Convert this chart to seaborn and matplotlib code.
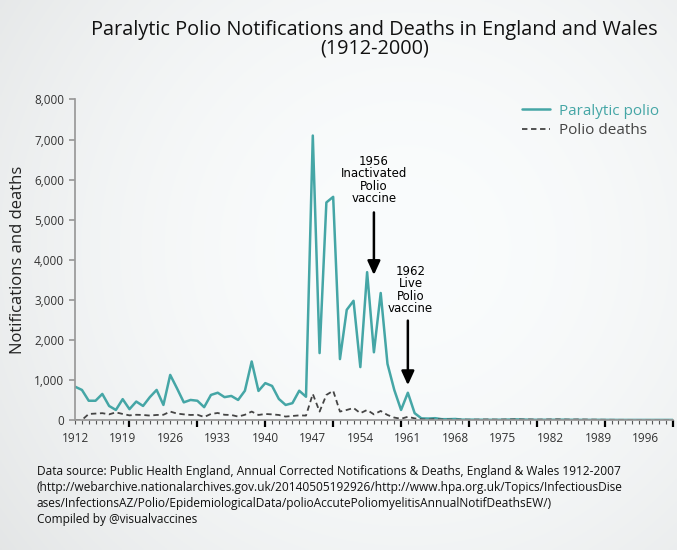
import numpy as np
import pandas as pd
import matplotlib
matplotlib.use("Agg")
import matplotlib.pyplot as plt
import seaborn as sns

years = list(range(1912, 2001))
paralytic = [830, 750, 480, 480, 650, 350, 250, 520, 270, 460,
             350, 570, 750, 375, 1125, 790, 440, 500, 480, 320,
             625, 680, 570, 600, 500, 730, 1460, 725, 920, 850,
             525, 375, 420, 730, 580, 7100, 1670, 5430, 5570, 1520,
             2750, 2975, 1320, 3690, 1690, 3170, 1400, 750, 250, 680,
             170, 40, 35, 45, 20, 20, 25, 8, 8, 6,
             5, 4, 5, 6, 10, 14, 10, 6, 4, 5,
             5, 5, 7, 4, 3, 2, 2, 3, 2, 2,
             1, 1, 1, 1, 1, 1, 1, 1, 1]
deaths = [0, 0, 150, 160, 170, 140, 190, 150, 115, 130,
          125, 110, 125, 130, 210, 160, 140, 125, 130, 75,
          150, 175, 130, 125, 85, 130, 210, 125, 150, 140,
          125, 85, 100, 115, 110, 650, 210, 625, 730, 210,
          250, 300, 170, 250, 140, 225, 125, 60, 30, 80,
          40, 15, 10, 20, 12, 10, 8, 10, 6, 8,
          10, 12, 8, 10, 12, 15, 10, 12, 8, 10,
          12, 15, 10, 8, 12, 10, 8, 6, 5, 4,
          3, 3, 2, 2, 2, 2, 2, 1, 1]
y_ticks = [0, 1000, 2000, 3000, 4000, 5000, 6000, 7000, 8000]
label_years = list(range(1912, 2000, 7))
decade_years = list(range(1920, 2001, 10))

df = pd.DataFrame({"year": years, "Paralytic polio": paralytic, "Polio deaths": deaths})

sns.set_theme(style="white")
plt.rcParams["font.family"] = ["Open Sans", "DejaVu Sans"]

teal = "#45a6a6"
grey = "#444444"

fig = plt.figure(figsize=(6.77, 5.5), dpi=100)

# soft grey-to-white background
bg = fig.add_axes([0, 0, 1, 1], zorder=-10)
gx, gy = np.meshgrid(np.linspace(0, 1, 300), np.linspace(0, 1, 250))
r = np.sqrt(((gx - 0.6) / 0.75) ** 2 + ((gy - 0.45) / 0.9) ** 2)
shade = 0.99 - 0.085 * np.clip(r, 0, 1.3) ** 2
bg.imshow(np.dstack([shade - 0.01, shade - 0.002, shade]), aspect="auto", extent=[0, 1, 0, 1])
bg.axis("off")

ax = fig.add_axes([0.111, 0.2364, 0.8826, 0.5827])
ax.set_facecolor("none")

sns.lineplot(data=df, x="year", y="Paralytic polio", color=teal, lw=1.8,
             label="Paralytic polio", ax=ax)
sns.lineplot(data=df, x="year", y="Polio deaths", color=grey, lw=1.3,
             linestyle=(0, (3, 2)), label="Polio deaths", ax=ax)

ax.set_xlim(1912, 2000)
ax.set_ylim(0, 8000)
ax.set_yticks(y_ticks)
ax.set_yticklabels([f"{v:,}" for v in y_ticks], fontsize=8.5, color="#333333")
ax.tick_params(axis="y", left=True, length=4, color="#999999", pad=4)

# decade ticks (black) and yearly minor ticks, labels every 7 years
ax.set_xticks(decade_years)
ax.set_xticklabels([])
ax.set_xticks(years, minor=True)
ax.tick_params(axis="x", which="major", bottom=True, length=5, width=1.6, color="black", direction="out")
ax.tick_params(axis="x", which="minor", bottom=True, length=3, width=0.8, color="#555555", direction="out")
sec = ax.secondary_xaxis("bottom")
sec.set_xticks(label_years)
sec.set_xticklabels([str(y) for y in label_years], fontsize=8.5, color="#333333")
sec.tick_params(length=0, pad=9)
sec.spines["bottom"].set_visible(False)

for s in ["top", "right"]:
    ax.spines[s].set_visible(False)
ax.spines["left"].set_color("#999999")
ax.spines["bottom"].set_color("#999999")

ax.set_xlabel("")
ax.set_ylabel("Notifications and deaths", fontsize=12, color="#222222", labelpad=6)

leg = ax.legend(loc="upper right", frameon=False, fontsize=11, handlelength=1.8,
                labelcolor="linecolor", bbox_to_anchor=(1.0, 1.03), handletextpad=0.6,
                labelspacing=0.3)

# vaccine annotations
ax.text(1956.0, 5990, "1956\nInactivated\nPolio\nvaccine", ha="center", va="center",
        fontsize=8.5, family="DejaVu Sans", linespacing=0.95, color="black")
ax.annotate("", xy=(1956.0, 3550), xytext=(1956.0, 5250),
            arrowprops=dict(arrowstyle="-|>,head_width=0.32,head_length=0.7", color="black", lw=1.8))
ax.text(1961.4, 3245, "1962\nLive\nPolio\nvaccine", ha="center", va="center",
        fontsize=8.5, family="DejaVu Sans", linespacing=0.95, color="black")
ax.annotate("", xy=(1961.0, 800), xytext=(1961.0, 2550),
            arrowprops=dict(arrowstyle="-|>,head_width=0.32,head_length=0.7", color="black", lw=1.8))

fig.text(0.553, 0.929, "Paralytic Polio Notifications and Deaths in England and Wales\n(1912-2000)",
         ha="center", va="center", fontsize=14.3, color="#111111", linespacing=0.92,
         weight="medium")

fig.text(0.054, 0.155,
         "Data source: Public Health England, Annual Corrected Notifications & Deaths, England & Wales 1912-2007\n"
         "(http://webarchive.nationalarchives.gov.uk/20140505192926/http://www.hpa.org.uk/Topics/InfectiousDise\n"
         "ases/InfectionsAZ/Polio/EpidemiologicalData/polioAccutePoliomyelitisAnnualNotifDeathsEW/)\n"
         "Compiled by @visualvaccines",
         ha="left", va="top", fontsize=8.6, color="#111111", linespacing=1.32)

fig.savefig("out.png", dpi=100)
